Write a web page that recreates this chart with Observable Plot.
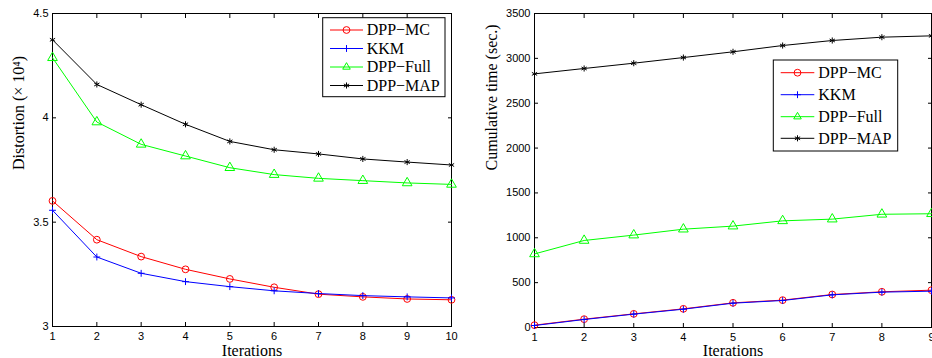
<!DOCTYPE html>
<html><head><meta charset="utf-8">
<script src="https://cdn.jsdelivr.net/npm/d3@7"></script>
<script src="https://cdn.jsdelivr.net/npm/@observablehq/plot@0.6"></script>
<style>
html,body{margin:0;padding:0;background:#fff;overflow:hidden;}
#wrap{display:flex;width:932px;height:358px;overflow:hidden;}
#wrap svg{flex:none;}
</style></head><body><div id="wrap"></div>
<script>
// ---- data ----
const seriesNames = ["DPP\u2212MC", "KKM", "DPP\u2212Full", "DPP\u2212MAP"];
const seriesColors = ["#ff0000", "#0000ff", "#00ff00", "#000000"];
const seriesSymbols = ["circle", "plus", "triangle", "asterisk"];
const seriesR = [3.4, 2.35, 3.6, 2.85];

const iterLeft = [1, 2, 3, 4, 5, 6, 7, 8, 9, 10];
const distMC   = [3.602, 3.416, 3.335, 3.274, 3.228, 3.188, 3.155, 3.142, 3.132, 3.128];
const distKKM  = [3.557, 3.333, 3.255, 3.215, 3.191, 3.171, 3.158, 3.148, 3.142, 3.137];
const distFull = [4.288, 3.980, 3.873, 3.817, 3.761, 3.728, 3.710, 3.699, 3.688, 3.681];
const distMAP  = [4.374, 4.160, 4.063, 3.969, 3.887, 3.847, 3.827, 3.803, 3.788, 3.774];

const iterRight = [1, 2, 3, 4, 5, 6, 7, 8, 9];
const timeMC   = [26, 93, 152, 208, 275, 305, 368, 398, 416];
const timeKKM  = [22, 89, 149, 204, 271, 301, 364, 394, 405];
const timeFull = [820, 970, 1030, 1096, 1130, 1189, 1208, 1262, 1268];
const timeMAP  = [2827, 2887, 2946, 3009, 3073, 3143, 3199, 3236, 3251];

const xTicksLeft = [1, 2, 3, 4, 5, 6, 7, 8, 9, 10];
const yTicksLeft = [3, 3.5, 4, 4.5];
const yTickLabelsLeft = ["3", "3.5", "4", "4.5"];
const xTicksRight = [1, 2, 3, 4, 5, 6, 7, 8, 9];
const yTicksRight = [0, 500, 1000, 1500, 2000, 2500, 3000, 3500];
const yTickLabelsRight = ["0", "500", "1000", "1500", "2000", "2500", "3000", "3500"];

const SERIF = "'Liberation Serif', 'Times New Roman', serif";
const SANS = "'Liberation Sans', Arial, sans-serif";

function panel(cfg) {
  const TL = 4;
  const marks = [
    Plot.frame({stroke: "black", strokeWidth: 1}),
    // inward tick marks on all four sides
    Plot.axisX({anchor: "bottom", ticks: cfg.xTicks, tickSize: TL, dy: -TL, tickFormat: () => "", label: null}),
    Plot.axisX({anchor: "top", ticks: cfg.xTicks, tickSize: TL, dy: TL, tickFormat: () => "", label: null}),
    Plot.axisY({anchor: "left", ticks: cfg.yTicks, tickSize: TL, dx: TL, tickFormat: () => "", label: null}),
    Plot.axisY({anchor: "right", ticks: cfg.yTicks, tickSize: TL, dx: -TL, tickFormat: () => "", label: null}),
    // tick labels
    Plot.axisX({anchor: "bottom", ticks: cfg.xTicks, tickSize: 0, tickPadding: cfg.xPad, tickFormat: d => String(d), label: null, fontSize: 11, fontFamily: SANS}),
    Plot.axisY({anchor: "left", ticks: cfg.yTicks, tickSize: 0, tickPadding: 4, tickFormat: d => cfg.yLabels[cfg.yTicks.indexOf(d)], label: null, fontSize: 11, fontFamily: SANS}),
    // axis titles
    Plot.text([cfg.xTitle], {frameAnchor: "bottom", lineAnchor: "middle", dy: cfg.xTitleDy, text: d => d, fontSize: 16, fontFamily: SERIF, fill: "black"}),
    Plot.text([cfg.yTitle], {frameAnchor: "left", lineAnchor: "middle", rotate: -90, dx: cfg.yTitleDx, text: d => d, fontSize: 16, fontFamily: SERIF, fill: "black"})
  ];
  cfg.series.forEach((vals, k) => {
    const data = cfg.x.map((x, i) => ({x, y: vals[i]}));
    marks.push(Plot.line(data, {x: "x", y: "y", stroke: seriesColors[k], strokeWidth: 1}));
    marks.push(Plot.dot(data, {x: "x", y: "y", symbol: seriesSymbols[k], r: seriesR[k], stroke: seriesColors[k], fill: "none", strokeWidth: 1}));
  });
  const svg = Plot.plot({
    width: 466, height: 358,
    marginLeft: cfg.ml, marginRight: cfg.mr, marginTop: 13, marginBottom: cfg.mb,
    x: {domain: cfg.xDomain, label: null},
    y: {domain: cfg.yDomain, label: null},
    style: {background: "white", color: "black", fontFamily: SANS, overflow: "hidden"},
    marks
  });
  // legend
  const L = cfg.legend;
  const g = d3.select(svg).append("g").attr("text-anchor", "start");
  g.append("rect").attr("x", L.x).attr("y", L.y).attr("width", L.w).attr("height", L.h)
    .attr("fill", "white").attr("stroke", "black").attr("stroke-width", 1);
  const types = {circle: d3.symbolCircle, plus: d3.symbolPlus, triangle: d3.symbolTriangle2, asterisk: d3.symbolAsterisk};
  seriesNames.forEach((name, k) => {
    const cy = L.rows[k];
    g.append("line").attr("x1", L.lx1).attr("x2", L.lx2).attr("y1", cy).attr("y2", cy)
      .attr("stroke", seriesColors[k]).attr("stroke-width", 1);
    g.append("path").attr("transform", `translate(${(L.lx1 + L.lx2) / 2},${cy})`)
      .attr("d", d3.symbol().type(types[seriesSymbols[k]]).size(Math.PI * seriesR[k] * seriesR[k])())
      .attr("fill", "none").attr("stroke", seriesColors[k]).attr("stroke-width", 1);
    g.append("text").attr("x", L.tx).attr("y", cy + 5.3).attr("text-anchor", "start").text(name)
      .attr("font-family", SERIF).attr("font-size", 16).attr("fill", "black");
  });
  return svg;
}

const wrap = document.getElementById("wrap");
wrap.appendChild(panel({
  x: iterLeft, series: [distMC, distKKM, distFull, distMAP],
  xTicks: xTicksLeft, yTicks: yTicksLeft, yLabels: yTickLabelsLeft,
  xDomain: [1, 10], yDomain: [3, 4.5],
  ml: 52, mr: 15, mb: 32, xPad: 6,
  xTitle: "Iterations", xTitleDy: 24.3, yTitle: "Distortion (\u00d7 10\u2074)", yTitleDx: -33.5,
  legend: {x: 322.7, y: 17.7, w: 122.3, h: 79, rows: [30, 48.5, 67, 85.5], lx1: 330, lx2: 363, tx: 366.7}
}));
wrap.appendChild(panel({
  x: iterRight, series: [timeMC, timeKKM, timeFull, timeMAP],
  xTicks: xTicksRight, yTicks: yTicksRight, yLabels: yTickLabelsRight,
  xDomain: [1, 9], yDomain: [0, 3500],
  ml: 68, mr: 1, mb: 31, xPad: 5.5,
  xTitle: "Iterations", xTitleDy: 23.5, yTitle: "Cumulative time (sec.)", yTitleDx: -42.5,
  legend: {x: 307.3, y: 60, w: 124.4, h: 91, rows: [72.7, 94.7, 116.7, 138.3], lx1: 314.7, lx2: 348.3, tx: 352.3}
}));
</script></body></html>
